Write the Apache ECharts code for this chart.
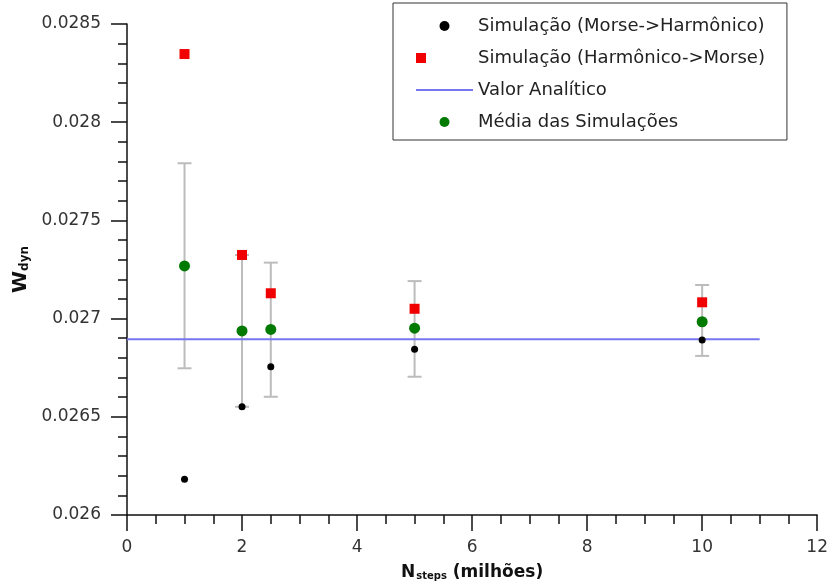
<!DOCTYPE html>
<html>
<head>
<meta charset="utf-8">
<script src="https://cdn.jsdelivr.net/npm/echarts@6/dist/echarts.min.js"></script>
<style>
html, body { margin: 0; padding: 0; background: #fff; }
#chart { width: 831px; height: 588px; }
</style>
</head>
<body>
<div id="chart"></div>
<script>
// N_steps (milhões)
var nSteps = [1, 2, 2.5, 5, 10];
// Simulação (Morse->Harmônico)
var morseHarm = [0.026182, 0.026551, 0.026755, 0.026844, 0.026891];
// Simulação (Harmônico->Morse)
var harmMorse = [0.028347, 0.027324, 0.027129, 0.027050, 0.027083];
// Média das Simulações
var media = [0.027268, 0.026937, 0.026945, 0.026951, 0.026984];
// barras de erro (limite inferior / superior)
var erroInf = [0.026747, 0.026551, 0.026602, 0.026704, 0.026810];
var erroSup = [0.027791, 0.027324, 0.027285, 0.027191, 0.027171];
// Valor Analítico
var valorAnalitico = 0.026895;
var linhaX = [0, 11];

var fonte = "DejaVu Sans";

function pares(xs, ys) {
	var out = [];
	for (var i = 0; i < xs.length; i++) {
		out.push([xs[i], ys[i]]);
	}
	return out;
}

var errData = [];
for (var i = 0; i < nSteps.length; i++) {
	errData.push([nSteps[i], erroInf[i], erroSup[i]]);
}

function renderErro(params, api) {
	var x = api.value(0);
	var lo = api.coord([x, api.value(1)]);
	var hi = api.coord([x, api.value(2)]);
	var h = 7;
	var st = { stroke: "#bcbcbc", lineWidth: 2 };
	return {
		type: "group",
		children: [
			{ type: "line", shape: { x1: lo[0], y1: lo[1], x2: hi[0], y2: hi[1] }, style: st },
			{ type: "line", shape: { x1: lo[0] - h, y1: lo[1], x2: lo[0] + h, y2: lo[1] }, style: st },
			{ type: "line", shape: { x1: hi[0] - h, y1: hi[1], x2: hi[0] + h, y2: hi[1] }, style: st }
		]
	};
}

var eixo = { lineStyle: { color: "#111", width: 1.5 } };

var myChart = echarts.init(document.getElementById("chart"));
var options = {
	animation: false,
	backgroundColor: "#fff",
	grid: { left: 127, right: 13, top: 24, bottom: 73 },
	legend: {
		orient: "vertical",
		left: 393,
		top: 3,
		padding: [13, 22, 8, 22],
		itemWidth: 57,
		itemHeight: 10,
		itemGap: 12,
		borderColor: "#333",
		borderWidth: 1,
		textStyle: { fontFamily: fonte, fontSize: 18, color: "#222", lineHeight: 20 },
		data: [
			"Simulação (Morse->Harmônico)",
			"Simulação (Harmônico->Morse)",
			{ name: "Valor Analítico", itemStyle: { opacity: 0 } },
			"Média das Simulações"
		]
	},
	xAxis: {
		type: "value",
		min: 0,
		max: 12,
		interval: 2,
		name: "{b|N}{s|steps}{b| (milhões)}",
		nameLocation: "middle",
		nameGap: 46,
		nameTextStyle: {
			rich: {
				b: { fontFamily: fonte, fontSize: 17, fontWeight: "bold", color: "#111", lineHeight: 20, verticalAlign: "bottom" },
				s: { fontFamily: fonte, fontSize: 10, fontWeight: "bold", color: "#111", verticalAlign: "bottom", padding: [0, 0, 0, 1] }
			}
		},
		axisLine: eixo,
		axisTick: { length: 16, lineStyle: { color: "#111", width: 1.5 } },
		minorTick: { show: true, splitNumber: 4, length: 9, lineStyle: { color: "#111", width: 1.5 } },
		axisLabel: { fontFamily: fonte, fontSize: 17, color: "#333", margin: 24 },
		splitLine: { show: false }
	},
	yAxis: {
		type: "value",
		min: 0.026,
		max: 0.0285,
		interval: 0.0005,
		name: "{b|W}{s|dyn}",
		nameLocation: "middle",
		nameRotate: 90,
		nameGap: 95,
		nameTextStyle: {
			rich: {
				b: { fontFamily: fonte, fontSize: 20, fontWeight: "bold", color: "#111", lineHeight: 22, verticalAlign: "bottom" },
				s: { fontFamily: fonte, fontSize: 12, fontWeight: "bold", color: "#111", verticalAlign: "bottom" }
			}
		},
		axisLine: eixo,
		axisTick: { length: 16, lineStyle: { color: "#111", width: 1.5 } },
		minorTick: { show: true, splitNumber: 5, length: 9, lineStyle: { color: "#111", width: 1.5 } },
		axisLabel: { fontFamily: fonte, fontSize: 17, color: "#333", margin: 26 },
		splitLine: { show: false }
	},
	series: [
		{
			name: "erro",
			type: "custom",
			renderItem: renderErro,
			encode: { x: 0, y: [1, 2] },
			data: errData,
			z: 1
		},
		{
			name: "Valor Analítico",
			type: "line",
			symbol: "none",
			color: "#7676f0",
			lineStyle: { color: "#7676f0", width: 2 },
			data: pares(linhaX, [valorAnalitico, valorAnalitico]),
			z: 2
		},
		{
			name: "Simulação (Morse->Harmônico)",
			type: "scatter",
			symbol: "circle",
			symbolSize: 7,
			itemStyle: { color: "#000", opacity: 1 },
			data: pares(nSteps, morseHarm),
			z: 3
		},
		{
			name: "Simulação (Harmônico->Morse)",
			type: "scatter",
			symbol: "square",
			symbolSize: 10,
			itemStyle: { color: "#f00000", opacity: 1 },
			data: pares(nSteps, harmMorse),
			z: 3
		},
		{
			name: "Média das Simulações",
			type: "scatter",
			symbol: "circle",
			symbolSize: 11,
			itemStyle: { color: "#007a00", opacity: 1 },
			data: pares(nSteps, media),
			z: 4
		}
	]
};
myChart.setOption(options);
</script>
</body>
</html>
